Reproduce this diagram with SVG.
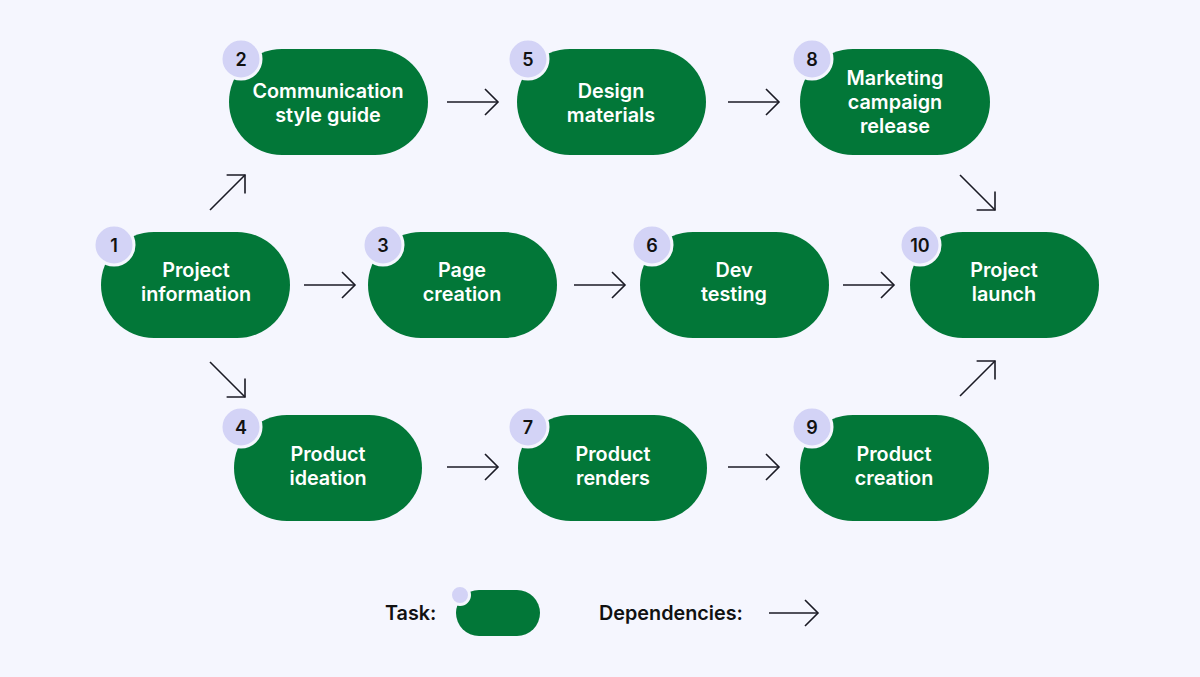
<svg xmlns="http://www.w3.org/2000/svg" width="1200" height="677" viewBox="0 0 1200 677">
<defs>
<style>
.pill{fill:#027738}
.badge{fill:#d3d3f6;stroke:#f5f6fe;stroke-width:3}
.lbl{font-family:Inter,"Liberation Sans",sans-serif;font-weight:600;font-size:19.8px;fill:#ffffff;text-anchor:middle}
.num{font-family:Inter,"Liberation Sans",sans-serif;font-weight:600;font-size:18px;fill:#111111;text-anchor:middle}
.leg{font-family:Inter,"Liberation Sans",sans-serif;font-weight:600;font-size:19.8px;fill:#111111}
.con{stroke:#1a1a24;stroke-width:1.6;fill:none;marker-end:url(#ah)}
</style>
<marker id="ah" markerUnits="userSpaceOnUse" markerWidth="18" markerHeight="30" refX="15" refY="14" orient="auto" viewBox="0 0 18 30">
<path d="M2,1 L15,14 L2,27" fill="none" stroke="#1a1a24" stroke-width="1.6"/>
</marker>
</defs>
<rect width="1200" height="677" fill="#f5f6fe"/>
<g id="connectors">
<line class="con" x1="210" y1="210" x2="245" y2="175"/>
<line class="con" x1="210" y1="362" x2="245" y2="397"/>
<line class="con" x1="304" y1="285" x2="355" y2="285"/>
<line class="con" x1="447" y1="102" x2="498" y2="102"/>
<line class="con" x1="728" y1="102" x2="779" y2="102"/>
<line class="con" x1="574" y1="285" x2="625" y2="285"/>
<line class="con" x1="843" y1="285" x2="894" y2="285"/>
<line class="con" x1="447" y1="467" x2="498" y2="467"/>
<line class="con" x1="728" y1="467" x2="779" y2="467"/>
<line class="con" x1="960" y1="175" x2="995" y2="210"/>
<line class="con" x1="960" y1="396" x2="995" y2="361"/>
</g>
<g id="node1">
<rect class="pill" x="101" y="232" width="189" height="106" rx="53"/>
<circle class="badge" cx="114" cy="245" r="20"/>
<text class="num" x="114" y="251.5">1</text>
<text class="lbl" x="196" y="277">Project</text>
<text class="lbl" x="196" y="301">information</text>
</g>
<g id="node2">
<rect class="pill" x="229" y="49" width="199" height="106" rx="53"/>
<circle class="badge" cx="241" cy="59" r="20"/>
<text class="num" x="241" y="65.5">2</text>
<text class="lbl" x="328" y="98">Communication</text>
<text class="lbl" x="328" y="122">style guide</text>
</g>
<g id="node3">
<rect class="pill" x="368" y="232" width="189" height="106" rx="53"/>
<circle class="badge" cx="383" cy="245" r="20"/>
<text class="num" x="383" y="251.5">3</text>
<text class="lbl" x="462" y="277">Page</text>
<text class="lbl" x="462" y="301">creation</text>
</g>
<g id="node4">
<rect class="pill" x="234" y="415" width="188" height="106" rx="53"/>
<circle class="badge" cx="241" cy="427" r="20"/>
<text class="num" x="241" y="433.5">4</text>
<text class="lbl" x="328" y="461">Product</text>
<text class="lbl" x="328" y="485">ideation</text>
</g>
<g id="node5">
<rect class="pill" x="517" y="49" width="189" height="106" rx="53"/>
<circle class="badge" cx="528" cy="59" r="20"/>
<text class="num" x="528" y="65.5">5</text>
<text class="lbl" x="611" y="98">Design</text>
<text class="lbl" x="611" y="122">materials</text>
</g>
<g id="node6">
<rect class="pill" x="640" y="232" width="189" height="106" rx="53"/>
<circle class="badge" cx="652" cy="245" r="20"/>
<text class="num" x="652" y="251.5">6</text>
<text class="lbl" x="734" y="277">Dev</text>
<text class="lbl" x="734" y="301">testing</text>
</g>
<g id="node7">
<rect class="pill" x="518" y="415" width="189" height="106" rx="53"/>
<circle class="badge" cx="528" cy="427" r="20"/>
<text class="num" x="528" y="433.5">7</text>
<text class="lbl" x="613" y="461">Product</text>
<text class="lbl" x="613" y="485">renders</text>
</g>
<g id="node8">
<rect class="pill" x="800" y="49" width="190" height="106" rx="53"/>
<circle class="badge" cx="812" cy="59" r="20"/>
<text class="num" x="812" y="65.5">8</text>
<text class="lbl" x="895" y="85">Marketing</text>
<text class="lbl" x="895" y="109">campaign</text>
<text class="lbl" x="895" y="133">release</text>
</g>
<g id="node9">
<rect class="pill" x="800" y="415" width="189" height="106" rx="53"/>
<circle class="badge" cx="812" cy="427" r="20"/>
<text class="num" x="812" y="433.5">9</text>
<text class="lbl" x="894" y="461">Product</text>
<text class="lbl" x="894" y="485">creation</text>
</g>
<g id="node10">
<rect class="pill" x="910" y="232" width="189" height="106" rx="53"/>
<circle class="badge" cx="920" cy="245" r="20"/>
<text class="num" x="920" y="251.5">10</text>
<text class="lbl" x="1004" y="277">Project</text>
<text class="lbl" x="1004" y="301">launch</text>
</g>
<g id="legend">
<text class="leg" x="385" y="620">Task:</text>
<rect class="pill" x="456" y="590" width="84" height="46" rx="23"/>
<circle class="badge" cx="460" cy="595" r="9.5"/>
<text class="leg" x="599" y="620">Dependencies:</text>
<line class="con" x1="769" y1="613" x2="818" y2="613"/>
</g>
</svg>
